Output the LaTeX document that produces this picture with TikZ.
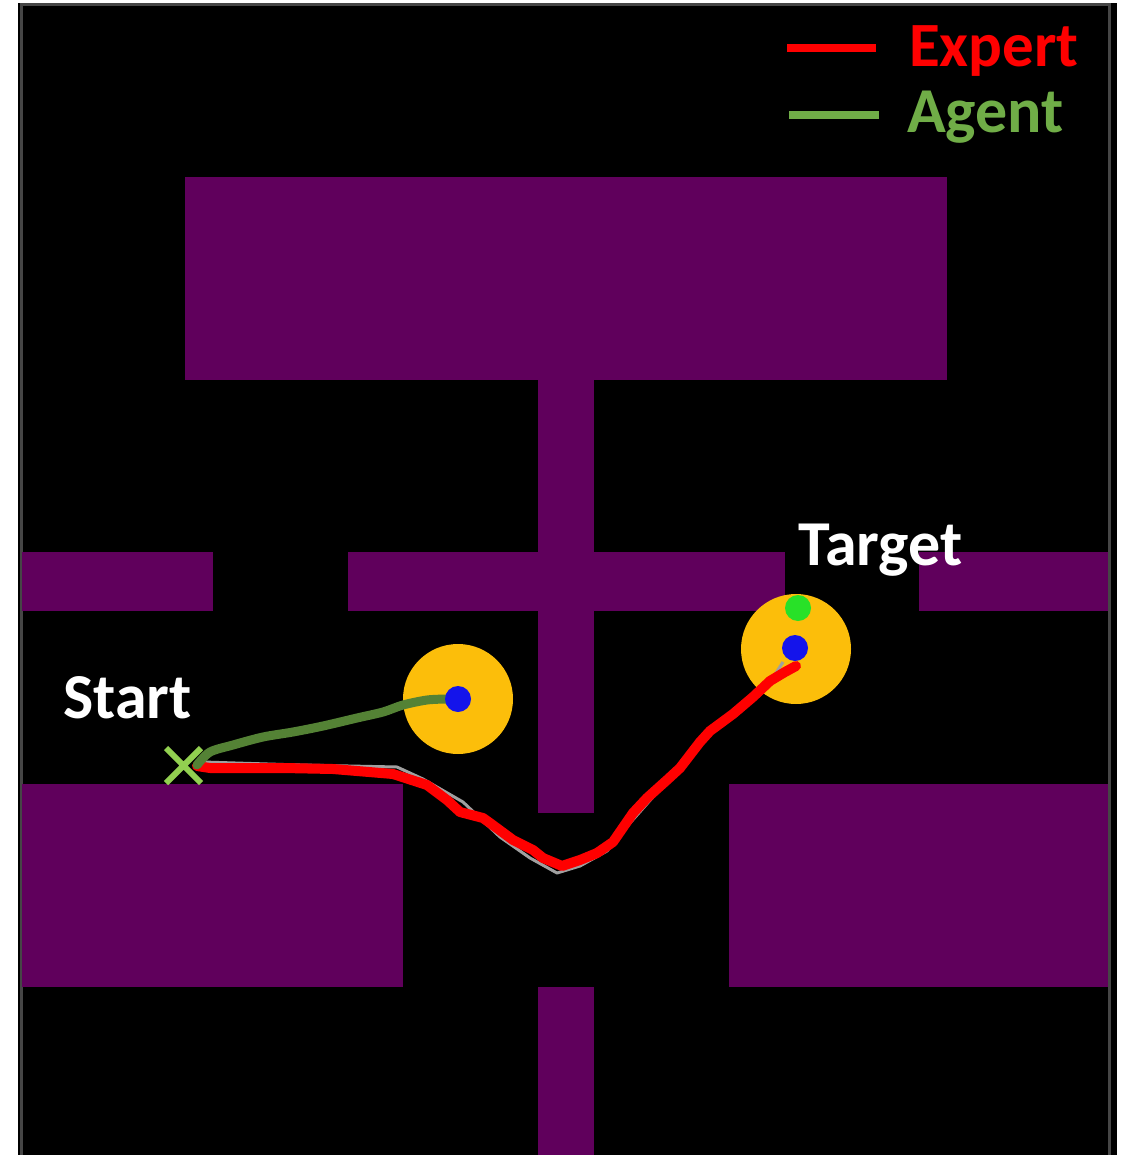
\documentclass[tikz,border=0pt]{standalone}
\usepackage{fontspec}
\setmainfont{Carlito}
\begin{document}
\begin{tikzpicture}[x=1pt,y=-1pt,
  wall/.style={fill=wallpurple,draw=none},
  zone/.style={circle,fill=zonegold,draw=none,minimum size=110pt,inner sep=0},
  dot/.style={circle,draw=none,minimum size=26pt,inner sep=0},
  label/.style={font=\bfseries,inner sep=0,anchor=base west},
  expertpath/.style={draw=expertred,line width=10pt,line join=round,line cap=round},
  agentpath/.style={draw=agentgreen,line width=9pt,line join=round,line cap=round},
  ghostpath/.style={draw=ghostgray,line width=3pt,line join=round}]
\definecolor{wallpurple}{RGB}{96,0,92}
\definecolor{zonegold}{RGB}{252,190,10}
\definecolor{goalblue}{RGB}{20,20,235}
\definecolor{goalgreen}{RGB}{40,225,40}
\definecolor{expertred}{RGB}{255,0,0}
\definecolor{agentgreen}{RGB}{84,130,53}
\definecolor{legendgreen}{RGB}{112,173,71}
\definecolor{crossgreen}{RGB}{146,208,80}
\definecolor{ghostgray}{RGB}{160,160,160}
\definecolor{framegray}{RGB}{70,70,70}

% canvas
\useasboundingbox (0,0) rectangle (1130,1155);
\fill[white] (0,0) rectangle (1130,1155);
\fill[black] (18,3) rectangle (1117,1155);
\draw[framegray,line width=3pt] (21,1155) -- (21,4.5) -- (1109.5,4.5) -- (1109.5,1155);

% walls
\fill[wall] (185,177) rectangle (947,380);
\fill[wall] (538,379) rectangle (594,813);
\fill[wall] (348,552) rectangle (785,611);
\fill[wall] (22,552) rectangle (213,611);
\fill[wall] (919,552) rectangle (1108,611);
\fill[wall] (22,784) rectangle (403,987);
\fill[wall] (729,784) rectangle (1108,987);
\fill[wall] (538,987) rectangle (594,1155);

% goal zones
\node[zone] (zoneA) at (458,699) {};
\node[zone] (zoneB) at (796,649) {};
\node[dot,fill=goalgreen] (goalT) at (798,608) {};

% start marker
\coordinate (start) at (197,766);
\draw[crossgreen,line width=6pt] (166,748) -- (201,783) (166,783) -- (201,748);

% reference trace under the expert path
\draw[ghostpath] (203,762) -- (300,765) -- (397,767) -- (423,779) -- (463,802)
  -- (500,837) -- (530,858) -- (557,873) -- (580,866) -- (607,851) -- (630,823)
  -- (653,797) -- (680,770) -- (705,738) -- (740,712) -- (765,690) -- (783,662);

% expert path
\draw[expertpath] (start) -- (210,768) -- (283,768) -- (333,769) -- (393,774)
  -- (427,785) -- (447,800) -- (460,812) -- (483,818) -- (490,823) -- (513,840) -- (533,850)
  -- (543,858) -- (562,866) -- (580,860) -- (597,853) -- (613,842) -- (633,813)
  -- (647,798) -- (667,780) -- (680,768) -- (700,742) -- (710,731) -- (733,714)
  -- (753,697) -- (770,681) -- (785,672) -- (796,666);

% agent path
\draw[agentpath] plot[smooth] coordinates {(197,765) (210,752) (233,745) (263,737)
  (293,732) (323,726) (357,718) (383,712) (403,705) (427,700) (447,699)};

% current positions
\node[dot,fill=goalblue] (posA) at (458,699) {};
\node[dot,fill=goalblue] (posB) at (795,648) {};

% labels
\node[label,white,font=\bfseries\fontsize{64}{64}\selectfont] (startlbl) at (63,718) {Start};
\node[label,white,font=\bfseries\fontsize{64}{64}\selectfont] (targetlbl) at (798,565) {Target};

% legend
\coordinate (lgE1) at (787,48);
\coordinate (lgE2) at (876,48);
\coordinate (lgA1) at (789,115);
\coordinate (lgA2) at (879,115);
\draw[expertred,line width=8pt] (lgE1) -- (lgE2);
\draw[legendgreen,line width=8pt] (lgA1) -- (lgA2);
\node[label,expertred,font=\bfseries\fontsize{63}{63}\selectfont] (expertlbl) at (909,67) {Expert};
\node[label,legendgreen,font=\bfseries\fontsize{64}{64}\selectfont] (agentlbl) at (907,133) {Agent};
\end{tikzpicture}
\end{document}
